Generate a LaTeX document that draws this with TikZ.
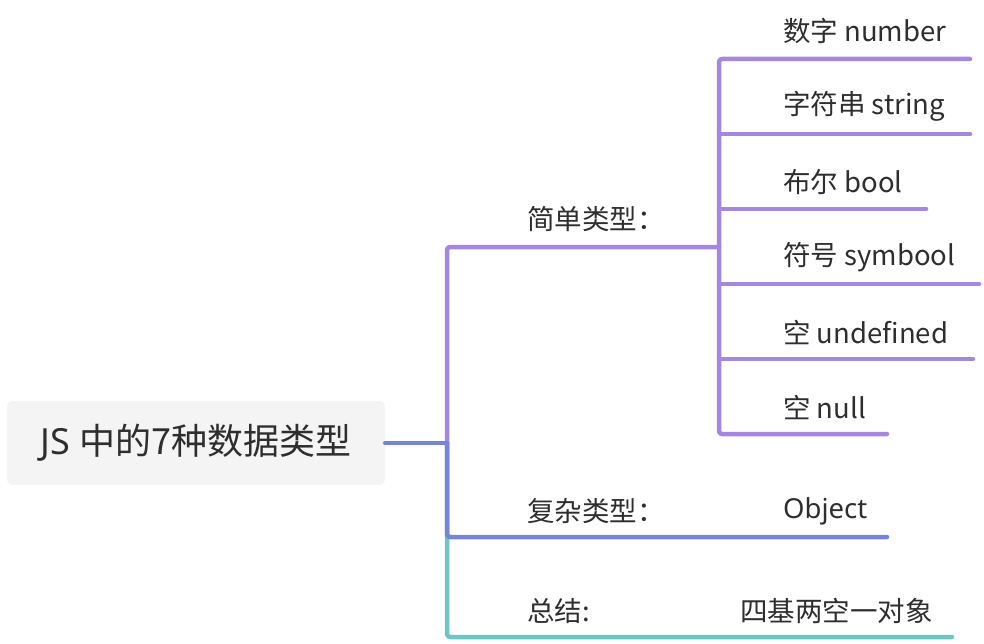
\documentclass[tikz,border=0pt]{standalone}
\usepackage{fontspec}
\setmainfont{Noto Sans}
\newfontfamily\cjk{Noto Sans CJK SC}
\definecolor{txt}{HTML}{2E2E2E}
\definecolor{pur}{HTML}{A587DF}
\definecolor{blu}{HTML}{7384D9}
\definecolor{tea}{HTML}{6FC4C4}
\definecolor{boxf}{HTML}{F4F4F4}
\begin{document}
\begin{tikzpicture}[x=1pt,y=-1pt,
  branch/.style={line width=4.5pt,line cap=round,line join=round,rounded corners=3pt},
  leaf/.style={anchor=west,inner sep=0pt,text=txt,font=\fontsize{27.5}{32}\selectfont},
  cat/.style={anchor=west,inner sep=0pt,text=txt,font=\fontsize{27.5}{32}\selectfont}]
\useasboundingbox (0,0) rectangle (984,644);
\node[fill=boxf,rounded corners=6pt,minimum width=378pt,minimum height=84pt,inner sep=0pt,
  text=txt,font=\fontsize{36}{42}\selectfont] (root) at (196,443) {JS \cjk{中的}7\cjk{种数据类型}};
% junction coordinates
\coordinate (j0) at (447,443);
\coordinate (jt) at (447,637);
\coordinate (te) at (952,637);
\coordinate (jb) at (447,537);
\coordinate (be) at (887,537);
\coordinate (js) at (447,247);
\coordinate (sv) at (719,247);
\coordinate (v1) at (719,59);
\coordinate (v6) at (719,434);
\coordinate (e1) at (970,59);
\coordinate (e2) at (970,134);
\coordinate (e3) at (926,209);
\coordinate (e4) at (979,284);
\coordinate (e5) at (973,359);
\coordinate (e6) at (887,434);
\coordinate (s2) at (719,134);
\coordinate (s3) at (719,209);
\coordinate (s4) at (719,284);
\coordinate (s5) at (719,359);
% branches
\draw[branch,tea] (j0) -- (jt) -- (te);
\draw[branch,blu] (j0) -- (jb) -- (be);
\draw[branch,pur] (j0) -- (js) -- (sv);
\draw[branch,pur] (e1) -- (v1) -- (v6) -- (e6);
\draw[branch,pur] (s2) -- (e2);
\draw[branch,pur] (s3) -- (e3);
\draw[branch,pur] (s4) -- (e4);
\draw[branch,pur] (s5) -- (e5);
\draw[branch,blu] (root.east) -- (j0);
% labels
\node[cat] (c1) at (527,219) {\cjk{简单类型：}};
\node[cat] (c2) at (527,511) {\cjk{复杂类型：}};
\node[cat] (c3) at (527,611) {\cjk{总结}:};
\node[leaf] (l1) at (783,31) {\cjk{数字} number};
\node[leaf] (l2) at (783,106) {\cjk{字符串} string};
\node[leaf] (l3) at (783,182) {\cjk{布尔} bool};
\node[leaf] (l4) at (783,257) {\cjk{符号} symbool};
\node[leaf] (l5) at (783,332) {\cjk{空} undefined};
\node[leaf] (l6) at (783,407) {\cjk{空} null};
\node[leaf] (l7) at (783,511) {Object};
\node[leaf] (l8) at (740,611) {\cjk{四基两空一对象}};
\end{tikzpicture}
\end{document}
